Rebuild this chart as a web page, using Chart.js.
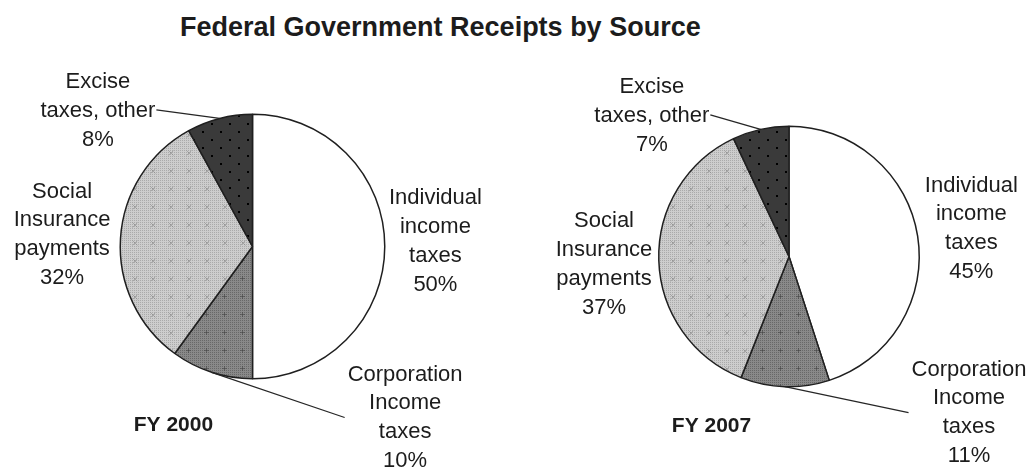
<!DOCTYPE html>
<html>
<head>
<meta charset="utf-8">
<script src="https://cdn.jsdelivr.net/npm/chart.js@4"></script>
<style>
  html, body { margin: 0; padding: 0; background: #ffffff; }
  body { width: 1031px; height: 472px; position: relative; overflow: hidden; }
  #title {
    position: absolute; left: 180px; top: 14px; white-space: nowrap;
    font: bold 27px "Liberation Sans", Arial, sans-serif; line-height: 27px; color: #1c1c1c;
  }
  #pie2000 { position: absolute; left: 0; top: 0; }
  #pie2007 { position: absolute; left: 520px; top: 0; }
</style>
</head>
<body>
<div id="title">Federal Government Receipts by Source</div>
<canvas id="pie2000" width="520" height="472"></canvas>
<canvas id="pie2007" width="511" height="472"></canvas>
<script>
// Receipt sources, in drawing order (clockwise from 12 o'clock)
const categories = ['Individual income taxes', 'Corporation Income taxes', 'Social Insurance payments', 'Excise taxes, other'];
const labelLines = [
  ['Individual', 'income', 'taxes'],
  ['Corporation', 'Income', 'taxes'],
  ['Social', 'Insurance', 'payments'],
  ['Excise', 'taxes, other']
];
const years = ['FY 2000', 'FY 2007'];
// Share of total receipts, percent
const fy2000 = [50, 10, 32, 8];
const fy2007 = [45, 11, 37, 7];

const TEXT = '#1c1c1c';
const LABEL_FONT = '22px "Liberation Sans", Arial, sans-serif';
const YEAR_FONT = 'bold 21px "Liberation Sans", Arial, sans-serif';
const LINE_H = 28.7;
const CORP = 1, EXCISE = 3;

function makeTile(w, h, paint) {
  const c = document.createElement('canvas');
  c.width = w; c.height = h;
  const g = c.getContext('2d');
  paint(g, w, h);
  return document.createElement('canvas').getContext('2d').createPattern(c, 'repeat');
}

// Light grey with fine dot grid and faint crosses
const socialFill = makeTile(18, 18, (g, w, h) => {
  g.fillStyle = '#cdcdcd'; g.fillRect(0, 0, w, h);
  g.fillStyle = '#aaaaaa';
  for (let y = 0; y < h; y += 2) for (let x = 0; x < w; x += 2) g.fillRect(x, y, 1, 1);
  g.strokeStyle = 'rgba(120,120,120,0.45)'; g.lineWidth = 1;
  g.beginPath(); g.moveTo(6.5, 6.5); g.lineTo(11.5, 11.5); g.moveTo(11.5, 6.5); g.lineTo(6.5, 11.5); g.stroke();
});
// Mid grey with fine dot grid and small plus marks
const corpFill = makeTile(18, 18, (g, w, h) => {
  g.fillStyle = '#898989'; g.fillRect(0, 0, w, h);
  g.fillStyle = '#686868';
  for (let y = 0; y < h; y += 2) for (let x = 0; x < w; x += 2) g.fillRect(x, y, 1, 1);
  g.fillStyle = 'rgba(70,70,70,0.6)';
  g.fillRect(8, 6, 1, 5); g.fillRect(6, 8, 5, 1);
});
// Near-black with staggered black dots
const exciseFill = makeTile(18, 16, (g, w, h) => {
  g.fillStyle = '#3a3a3a'; g.fillRect(0, 0, w, h);
  g.fillStyle = '#000000';
  g.fillRect(4, 3, 2, 2); g.fillRect(13, 11, 2, 2);
});

const sliceFills = ['#ffffff', corpFill, socialFill, exciseFill];

const sliceLabels = {
  id: 'sliceLabels',
  afterDatasetsDraw(chart, args, opts) {
    const { ctx } = chart;
    const meta = chart.getDatasetMeta(0);
    const values = chart.data.datasets[0].data;
    const first = meta.data[0];
    const cx = first.x, cy = first.y, r = first.outerRadius;
    ctx.save();
    ctx.font = LABEL_FONT;
    ctx.fillStyle = TEXT;
    ctx.strokeStyle = '#262626';
    ctx.lineWidth = 1.3;
    ctx.textAlign = 'center';
    ctx.textBaseline = 'middle';
    meta.data.forEach((arc, i) => {
      const lines = [...labelLines[i], values[i] + '%'];
      const [ox, oy] = opts.offsets[i];
      const tx = cx + ox * r, ty = cy + oy * r;
      const top = ty - (lines.length - 1) * LINE_H / 2;
      lines.forEach((t, k) => ctx.fillText(t, tx, top + k * LINE_H));
      const mid = (arc.startAngle + arc.endAngle) / 2;
      const ax = cx + Math.cos(mid) * r, ay = cy + Math.sin(mid) * r;
      if (i === EXCISE) {
        const w = ctx.measureText(lines[1]).width;
        ctx.beginPath(); ctx.moveTo(tx + w / 2 + 1, top + LINE_H - 1); ctx.lineTo(ax, ay); ctx.stroke();
      } else if (i === CORP) {
        const w = Math.max(...lines.map(t => ctx.measureText(t).width));
        ctx.beginPath(); ctx.moveTo(ax, ay); ctx.lineTo(tx - w / 2 - 3, ty); ctx.stroke();
      }
    });
    ctx.font = YEAR_FONT;
    ctx.textBaseline = 'alphabetic';
    ctx.fillText(opts.year, cx + opts.yearAt[0] * r, cy + opts.yearAt[1] * r);
    ctx.restore();
  }
};

function pieConfig(values, year, padding, offsets, yearAt) {
  return {
    type: 'pie',
    data: {
      labels: categories,
      datasets: [{
        data: values,
        backgroundColor: sliceFills,
        borderColor: '#1f1f1f',
        borderWidth: 1.5
      }]
    },
    options: {
      responsive: false,
      animation: false,
      layout: { padding },
      plugins: {
        legend: { display: false },
        tooltip: { enabled: false },
        sliceLabels: { offsets, year, yearAt }
      }
    },
    plugins: [sliceLabels]
  };
}

new Chart(document.getElementById('pie2000'), pieConfig(
  fy2000, years[0],
  { left: 119.5, right: 134.5, top: 113.5, bottom: 92.5 },
  [[1.383, -0.038], [1.154, 1.293], [-1.44, -0.09], [-1.169, -1.026]],
  [-0.598, 1.395]
));

new Chart(document.getElementById('pie2007'), pieConfig(
  fy2007, years[1],
  { left: 138, right: 111, top: 125.5, bottom: 84.5 },
  [[1.40, -0.214], [1.382, 1.198], [-1.42, 0.061], [-1.053, -1.08]],
  [-0.595, 1.347]
));
</script>
</body>
</html>
